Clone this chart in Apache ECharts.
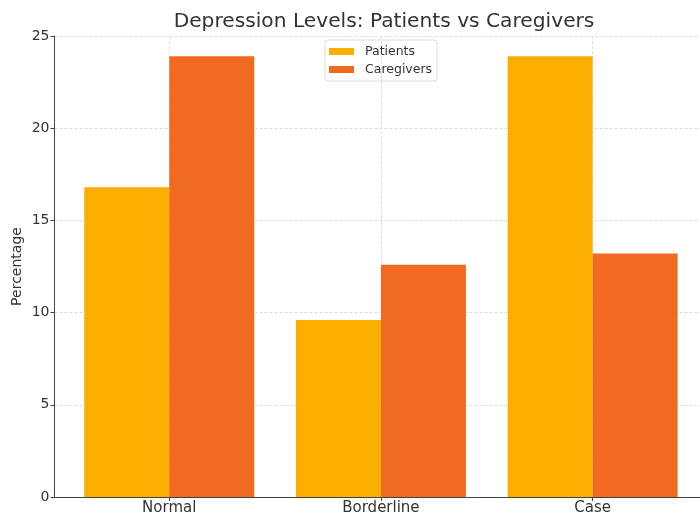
<!DOCTYPE html>
<html><head><meta charset="utf-8">
<script src="https://cdn.jsdelivr.net/npm/echarts@6/dist/echarts.min.js"></script>
<style>html,body{margin:0;padding:0;background:#fff}#c{width:700px;height:518px}</style>
</head><body><div id="c"></div>
<script>
const categories = ['Normal', 'Borderline', 'Case'];
const patients = [16.8, 9.6, 23.9];
const caregivers = [23.9, 12.6, 13.2];
const yTicks = [0, 5, 10, 15, 20, 25];

const font = 'DejaVu Sans';
const chart = echarts.init(document.getElementById('c'), null, {renderer: 'canvas'});
const catIdx = categories.map((_, i) => i);
chart.setOption({
  animation: false,
  backgroundColor: '#fff',
  textStyle: {fontFamily: font},
  title: {
    text: 'Depression Levels: Patients vs Caregivers',
    left: 379, top: 7, textAlign: 'center',
    textStyle: {fontFamily: font, fontSize: 20.2, fontWeight: 'normal', color: '#333'}
  },
  legend: {
    orient: 'vertical', left: 325, top: 40,
    itemWidth: 25, itemHeight: 7, itemGap: 5,
    padding: [5, 5, 5, 4],
    borderColor: '#dcdcdc', borderWidth: 1, borderRadius: 3,
    textStyle: {fontFamily: font, fontSize: 12.5, color: '#333', padding: [0, 0, 0, 6]},
    icon: 'rect',
    data: ['Patients', 'Caregivers']
  },
  grid: {left: 54.5, top: 36, width: 652, height: 461, containLabel: false, outerBoundsMode: 'none'},
  xAxis: {
    type: 'value', min: -0.542, max: 2.538,
    axisLine: {show: true, onZero: false, lineStyle: {color: '#444', width: 1}},
    axisTick: {show: true, customValues: catIdx, length: 4, lineStyle: {color: '#444'}},
    axisLabel: {customValues: catIdx, formatter: v => categories[Math.round(v)] || '',
      fontFamily: font, fontSize: 15, color: '#333', margin: 4},
    splitLine: {show: true, lineStyle: {color: '#dcdcdc', type: [3, 2]}}
  },
  yAxis: {
    type: 'value', min: yTicks[0], max: yTicks[yTicks.length - 1], interval: 5,
    name: 'Percentage', nameLocation: 'middle', nameGap: 30, nameRotate: 90,
    nameMoveOverlap: false,
    nameTextStyle: {fontFamily: font, fontSize: 14, color: '#333'},
    axisLine: {show: true, onZero: false, lineStyle: {color: '#444', width: 1}},
    axisTick: {show: true, length: 4, lineStyle: {color: '#444'}},
    axisLabel: {fontFamily: font, fontSize: 14, color: '#333', margin: 5},
    splitLine: {show: true, lineStyle: {color: '#dcdcdc', type: [3, 2]}}
  },
  series: [
    {name: 'Patients', type: 'bar', barWidth: 85, barGap: '0%',
     itemStyle: {color: '#FBAD00'},
     data: patients.map((v, i) => [i, v])},
    {name: 'Caregivers', type: 'bar', barWidth: 85, barGap: '0%',
     itemStyle: {color: '#F06A22'},
     data: caregivers.map((v, i) => [i, v])}
  ]
});
</script></body></html>
